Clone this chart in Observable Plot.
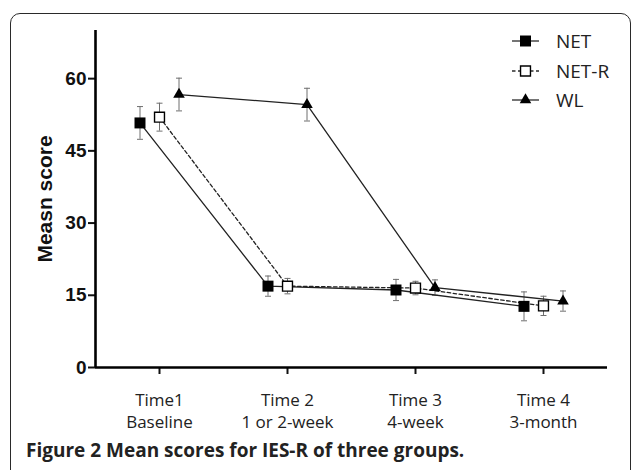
<!DOCTYPE html>
<html>
<head>
<meta charset="utf-8">
<script src="https://cdn.jsdelivr.net/npm/d3@7"></script>
<script src="https://cdn.jsdelivr.net/npm/@observablehq/plot@0.6"></script>
<style>
  html, body { margin: 0; padding: 0; background: #fff; }
  #wrap { position: relative; width: 631px; height: 470px; overflow: hidden; background: #fff; }
  #frame { position: absolute; left: 10px; top: 13px; width: 621px; height: 470px; border: 1.6px solid #2a2a2a; border-radius: 10px; box-sizing: border-box; }
  #chart { position: absolute; left: 0; top: 0; }
  #legend { position: absolute; left: 505px; top: 25px; }
  #caption { position: absolute; left: 26px; top: 441px; line-height: 1; font-family: "Open Sans", sans-serif; font-weight: 700; font-size: 19px; color: #222; white-space: nowrap; }
</style>
</head>
<body>
<div id="wrap">
  <div id="frame"></div>
  <div id="chart"></div>
  <div id="legend"></div>
  <div id="caption">Figure 2 Mean scores for IES-R of three groups.</div>
</div>
<script>
// ---- data ----
const timePoints = [1, 2, 3, 4];
const timeLabels = ["Time1\nBaseline", "Time 2\n1 or 2-week", "Time 3\n4-week", "Time 4\n3-month"];
const yTicks = [0, 15, 30, 45, 60];
const seriesNames = ["NET", "NET-R", "WL"];
const netMean  = [50.8, 16.9, 16.1, 12.7];
const netErr   = [3.4, 2.1, 2.2, 3.0];
const netrMean = [52.0, 16.9, 16.5, 12.8];
const netrErr  = [2.9, 1.6, 1.4, 2.0];
const wlMean   = [56.7, 54.6, 16.6, 13.8];
const wlErr    = [3.4, 3.4, 1.6, 2.1];

const means = [netMean, netrMean, wlMean];
const errs = [netErr, netrErr, wlErr];

// styling per series (not data)
const styles = [
  {dx: -19.5, symbol: "square", r: 6.2, fill: "#000", stroke: "none", dash: null},
  {dx: 0, symbol: "square", r: 5.6, fill: "#fff", stroke: "#000", dash: "3.5,2.5"},
  {dx: 19.5, symbol: "triangle", r: 4.3, fill: "#000", stroke: "none", dash: null}
];

const capSymbol = {
  draw(ctx, size) {
    const w = Math.sqrt(size / Math.PI);
    ctx.moveTo(-w, 0);
    ctx.lineTo(w, 0);
  }
};

const tables = seriesNames.map((name, s) =>
  timePoints.map((t, i) => ({series: name, t, m: means[s][i], lo: means[s][i] - errs[s][i], hi: means[s][i] + errs[s][i]}))
);

const marks = [];
tables.forEach((tbl, s) => {
  const st = styles[s];
  marks.push(Plot.ruleX(tbl, {x: "t", y1: "lo", y2: "hi", dx: st.dx, stroke: "#6f6f6f", strokeWidth: 1}));
  marks.push(Plot.dot(tbl, {x: "t", y: "lo", dx: st.dx, symbol: capSymbol, r: 3, stroke: "#6f6f6f", strokeWidth: 1, fill: "none"}));
  marks.push(Plot.dot(tbl, {x: "t", y: "hi", dx: st.dx, symbol: capSymbol, r: 3, stroke: "#6f6f6f", strokeWidth: 1, fill: "none"}));
});
tables.forEach((tbl, s) => {
  const st = styles[s];
  marks.push(Plot.line(tbl, {x: "t", y: "m", dx: st.dx, stroke: "#222", strokeWidth: 1.3, strokeDasharray: st.dash}));
});
tables.forEach((tbl, s) => {
  const st = styles[s];
  marks.push(Plot.dot(tbl, {x: "t", y: "m", dx: st.dx, symbol: st.symbol, r: st.r, fill: st.fill, stroke: st.stroke, strokeWidth: 1.4}));
});

const chart = Plot.plot({
  width: 631,
  height: 440,
  marginLeft: 95,
  marginRight: 24,
  marginTop: 30,
  marginBottom: 73,
  x: {domain: [0.5, 4.5]},
  y: {domain: [0, 70]},
  style: {background: "transparent", color: "#111"},
  marks: [
    Plot.axisY({ticks: yTicks, tickSize: 7, tickPadding: 2, tickFormat: d => String(d), fontFamily: "'Liberation Sans', Arial, sans-serif", fontWeight: "bold", fontSize: 19, label: null, strokeWidth: 2, fill: "#111"}),
    Plot.axisX({ticks: timePoints, tickFormat: d => timeLabels[d - 1], tickSize: 7, tickPadding: 16, fontFamily: "'Open Sans', sans-serif", fontSize: 17, lineHeight: 1.29, label: null, strokeWidth: 2, fill: "#222"}),
    Plot.ruleX([0.5], {stroke: "#000", strokeWidth: 2.6}),
    Plot.ruleY([0], {stroke: "#000", strokeWidth: 2.6}),
    Plot.text(["Measn score"], {frameAnchor: "left", dx: -50, rotate: -90, textAnchor: "middle", lineAnchor: "middle", fontFamily: "'Liberation Sans', Arial, sans-serif", fontWeight: "bold", fontSize: 21, fill: "#111"}),
    ...marks
  ]
});
document.getElementById("chart").appendChild(chart);

// legend
const lg = d3.select("#legend").append("svg").attr("width", 126).attr("height", 95);
const rowY = [16, 46, 75];
seriesNames.forEach((name, s) => {
  const st = styles[s];
  const g = lg.append("g").attr("transform", `translate(0,${rowY[s]})`);
  g.append("line").attr("x1", 7).attr("x2", 34).attr("y1", 0).attr("y2", 0)
    .attr("stroke", "#2b2b2b").attr("stroke-width", 1.3).attr("stroke-dasharray", st.dash);
  const sym = st.symbol === "square" ? d3.symbolSquare : d3.symbolTriangle;
  g.append("path").attr("transform", "translate(20.5,0)")
    .attr("d", d3.symbol(sym, Math.PI * st.r * st.r)())
    .attr("fill", st.fill).attr("stroke", st.stroke).attr("stroke-width", 1.4);
  g.append("text").attr("x", 51).attr("y", 6.5).text(name)
    .attr("font-family", "'Open Sans', sans-serif").attr("font-size", 19).attr("fill", "#222");
});
</script>
</body>
</html>
